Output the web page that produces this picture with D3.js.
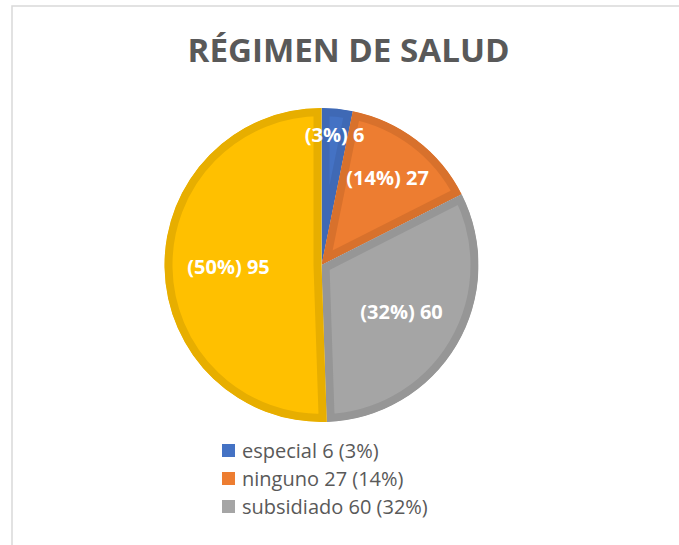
<!DOCTYPE html>
<meta charset="utf-8">
<head>
    <script type="text/javascript" src="https://cdn.jsdelivr.net/npm/d3@7"></script>
    <style>
        body { margin: 0; background: #fff; }
        text { font-family: "Open Sans", "Liberation Sans", sans-serif; }
    </style>
    <title>Régimen de salud</title>
</head>
<body>
    <div id="chart"></div>
    <script>
        // data
        var categories = ["especial", "ninguno", "subsidiado", "contributivo"];
        var values = [6, 27, 60, 95];
        var pctLabels = ["3%", "14%", "32%", "50%"];
        var fills = ["#4472C4", "#ED7D31", "#A5A5A5", "#FFC000"];
        var strokes = ["#3F69B5", "#D8712C", "#969696", "#E7AE00"];
        var legendCount = 3; // only three entries fit in the legend box

        var width = 679, height = 545;
        var cx = 321.5, cy = 265, radius = 157;
        // label distance from centre, per slice (best-fit placement)
        var labelR = [131, 109, 93, 93];

        var svg = d3.select("#chart").append("svg")
            .attr("width", width)
            .attr("height", height);

        // chart frame
        svg.append("rect")
            .attr("x", 12).attr("y", 6)
            .attr("width", 700).attr("height", 600)
            .attr("fill", "#fff")
            .attr("stroke", "#d9d9d9")
            .attr("stroke-width", 1.5);

        svg.append("text")
            .attr("x", 348.5).attr("y", 62)
            .attr("text-anchor", "middle")
            .attr("font-size", 33)
            .attr("font-weight", "bold")
            .attr("fill", "#595959")
            .attr("textLength", 322)
            .attr("lengthAdjust", "spacingAndGlyphs")
            .text("RÉGIMEN DE SALUD");

        var pie = d3.pie().sort(null).value(function(d) { return d; });
        var arcs = pie(values);
        var arc = d3.arc().innerRadius(0).outerRadius(radius);

        var g = svg.append("g").attr("transform", "translate(" + cx + "," + cy + ")");
        var defs = svg.append("defs");

        arcs.forEach(function(a, i) {
            defs.append("clipPath").attr("id", "clip" + i)
                .append("path").attr("d", arc(a));
        });

        g.selectAll("path.slice")
            .data(arcs)
            .enter().append("path")
            .attr("class", "slice")
            .attr("d", arc)
            .attr("fill", function(d, i) { return fills[i]; })
            .attr("stroke", function(d, i) { return strokes[i]; })
            .attr("stroke-width", 16)
            .attr("stroke-linejoin", "miter")
            .attr("clip-path", function(d, i) { return "url(#clip" + i + ")"; });

        g.selectAll("text.lbl")
            .data(arcs)
            .enter().append("text")
            .attr("class", "lbl")
            .attr("x", function(d, i) {
                var m = (d.startAngle + d.endAngle) / 2;
                return Math.sin(m) * labelR[i];
            })
            .attr("y", function(d, i) {
                var m = (d.startAngle + d.endAngle) / 2;
                return -Math.cos(m) * labelR[i];
            })
            .attr("dy", "0.35em")
            .attr("text-anchor", "middle")
            .attr("font-size", 20)
            .attr("font-weight", "bold")
            .attr("fill", "#fff")
            .text(function(d, i) { return "(" + pctLabels[i] + ") " + values[i]; });

        // legend
        var legend = svg.append("g").attr("transform", "translate(222,444)");
        var rows = legend.selectAll("g")
            .data(categories.slice(0, legendCount))
            .enter().append("g")
            .attr("transform", function(d, i) { return "translate(0," + (i * 28) + ")"; });
        rows.append("rect")
            .attr("width", 13).attr("height", 13)
            .attr("fill", function(d, i) { return fills[i]; });
        rows.append("text")
            .attr("x", 20).attr("y", 7)
            .attr("dy", "0.35em")
            .attr("font-size", 20)
            .attr("fill", "#595959")
            .text(function(d, i) { return d + " " + values[i] + " (" + pctLabels[i] + ")"; });
    </script>
</body>
</html>
